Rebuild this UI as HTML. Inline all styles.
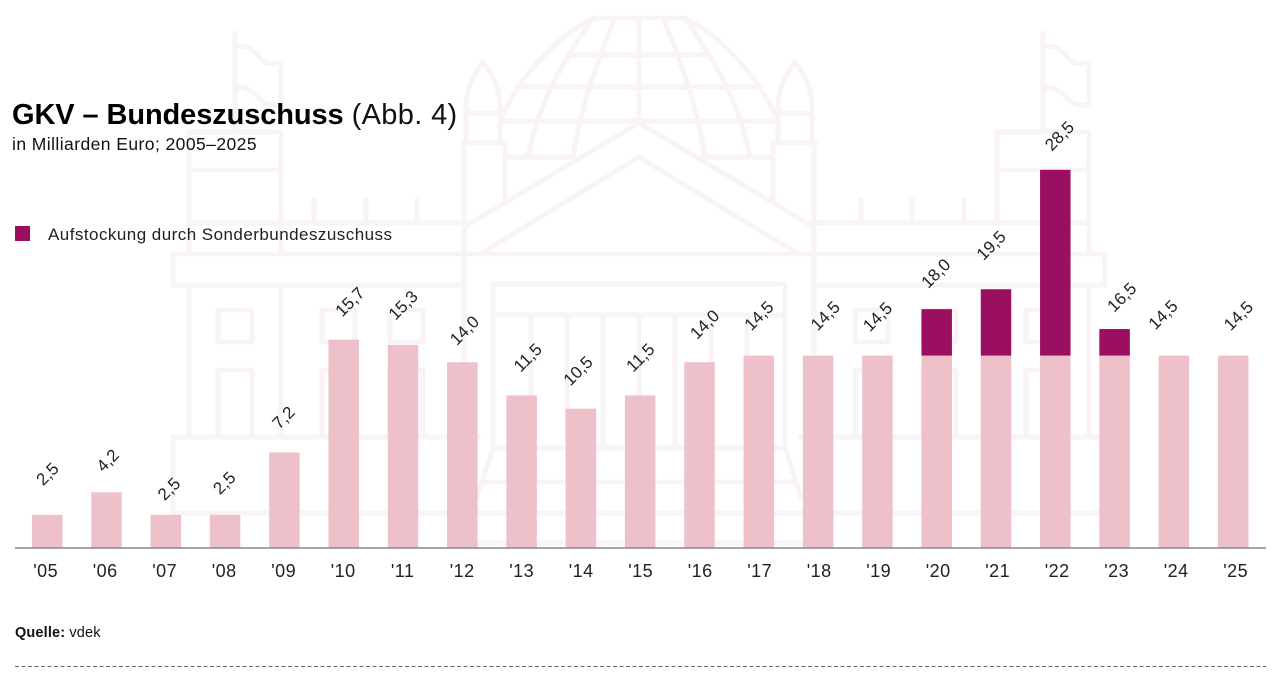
<!DOCTYPE html>
<html lang="de">
<head>
<meta charset="utf-8">
<title>GKV – Bundeszuschuss</title>
<style>
html,body{margin:0;padding:0;background:#fff;width:1280px;height:689px;overflow:hidden}
svg{display:block;font-family:"Liberation Sans",sans-serif}
</style>
</head>
<body>
<svg id="chart" xmlns="http://www.w3.org/2000/svg" width="1280" height="689" viewBox="0 0 1280 689">
  <g fill="none" stroke="#f9f3f5" stroke-width="5" stroke-linecap="round" stroke-linejoin="round">
    <g id="half">
      <path d="M639 18H593M639 55H570M639 87H517M639 121H500M575 157H505"/>
      <path d="M593 18C550 40 515 85 500 121"/>
      <path d="M615 18C600 55 582 100 573 157"/>
      <path d="M593 18C570 52 540 95 528 157"/>
      <path d="M639 18V121"/>
      <path d="M639 123L464 227M639 157L480 254"/>
      <path d="M483 62C472 76 466 90 466 106V142M483 62C494 76 500 90 500 106V142M466 113H500M463 143H505V202"/>
      <path d="M464 143V437"/>
      <path d="M235 87V132"/>
      <path d="M189 132H281M189 170H281M189 132V253M281 132V223M189 223H464M314 200V223M366 200V223M417 200V223"/>
      <path d="M639 254H173V285H464"/>
      <path d="M189 285V437M281 285V437"/>
      <path d="M218 310H252V342H218ZM322 310H355V342H322ZM390 310H423V342H390Z"/>
      <path d="M218 437V370H252V437M322 437V370H355V437M390 437V370H423V437"/>
      <path d="M173 513V437H478M173 513H639"/>
      <path d="M639 284H493V448M639 315H493M531 315V448M567 315V448M603 315V448M639 315V448"/>
      <path d="M639 448H493L477 497M639 482H483M639 543H478"/>
    </g>
    <use href="#half" transform="translate(1278,0) scale(-1,1)"/>
    <path id="flag" d="M235 33V87M235 46C248 46 254 50 261 59C267 66 273 63 281 63V105M235 87C248 87 254 92 261 100C267 106 273 105 281 105"/>
    <use href="#flag" transform="translate(808,0)"/>
    <path d="M281 223V253"/>
  </g>

  <text x="12" y="124" font-size="29" fill="#000"><tspan font-weight="700" letter-spacing="-0.1">GKV – Bundeszuschuss</tspan><tspan dx="8" fill="#111" letter-spacing="0.35">(Abb. 4)</tspan></text>
  <text x="12" y="150" font-size="17.5" letter-spacing="0.43" fill="#111">in Milliarden Euro; 2005–2025</text>

  <rect x="15" y="226" width="15" height="15" fill="#9a0f5f"/>
  <text x="48" y="240" font-size="17" letter-spacing="0.46" fill="#222">Aufstockung durch Sonderbundeszuschuss</text>

  <g id="bars"></g>
  <g id="value-labels"></g>
  <g id="x-ticks"></g>
  <line x1="15" x2="1266" y1="548" y2="548" stroke="#888" stroke-width="1.5"/>

  <text x="15" y="637" font-size="14.5" letter-spacing="0.15" fill="#111"><tspan font-weight="700">Quelle:</tspan> vdek</text>
  <line x1="15" x2="1266" y1="666.5" y2="666.5" stroke="#666" stroke-width="1" stroke-dasharray="4 2.5"/>
</svg>
<script>
const categories = ["'05","'06","'07","'08","'09","'10","'11","'12","'13","'14","'15","'16","'17","'18","'19","'20","'21","'22","'23","'24","'25"];
const baseValues = [2.5,4.2,2.5,2.5,7.2,15.7,15.3,14.0,11.5,10.5,11.5,14.0,14.5,14.5,14.5,14.5,14.5,14.5,14.5,14.5,14.5];
const extraValues = [0,0,0,0,0,0,0,0,0,0,0,0,0,0,0,3.5,5.0,14.0,2.0,0,0];

const NS = 'http://www.w3.org/2000/svg';
function xScale(i){ return 47.2 + i * 59.3; }
function tickScale(i){ return 45.7 + i * 59.5; }
function yScale(v){ return 548 - v * 13.27; }
function fmt(v){ return v.toFixed(1).replace('.', ','); }

function drawChart(){
  const labelShiftX = [0,1,3,-1,-1,6,0,2,6,-3,0,5,0,7,0,-1,-5,4,7,-11,5];
  const labelShiftY = [-41,-32,-26,-32,-35,-38,-40,-32,-38,-38,-38,-38,-40,-40,-39,-36,-44,-34,-32,-41,-40];
  const barWidth = 30.5;
  const bars = document.getElementById('bars');
  const valueLabels = document.getElementById('value-labels');
  const ticks = document.getElementById('x-ticks');

  categories.forEach(function(cat, i){
    const cx = xScale(i);
    const base = baseValues[i];
    const extra = extraValues[i];
    const total = base + extra;

    const baseBar = document.createElementNS(NS, 'rect');
    
    
    baseBar.setAttribute('x', cx - barWidth / 2);
    baseBar.setAttribute('y', yScale(base));
    baseBar.setAttribute('width', barWidth);
    baseBar.setAttribute('height', yScale(0) - yScale(base));
    baseBar.setAttribute('fill', '#eec1ca');
    bars.appendChild(baseBar);

    if (extra > 0) {
      const extraBar = document.createElementNS(NS, 'rect');
      
      
      extraBar.setAttribute('x', cx - barWidth / 2);
      extraBar.setAttribute('y', yScale(total));
      extraBar.setAttribute('width', barWidth);
      extraBar.setAttribute('height', yScale(base) - yScale(total));
      extraBar.setAttribute('fill', '#9a0f5f');
      bars.appendChild(extraBar);
    }

    const lx = cx + labelShiftX[i];
    const ly = yScale(total) + labelShiftY[i];
    const label = document.createElementNS(NS, 'text');
    
    
    label.setAttribute('x', lx);
    label.setAttribute('y', ly + 6);
    label.setAttribute('text-anchor', 'middle');
    label.setAttribute('font-size', '17');
    label.setAttribute('fill', '#222');
    label.setAttribute('transform', 'rotate(-45 ' + lx + ' ' + ly + ')');
    label.textContent = fmt(total);
    valueLabels.appendChild(label);

    const tick = document.createElementNS(NS, 'text');
    
    
    tick.setAttribute('x', tickScale(i));
    tick.setAttribute('y', 577);
    tick.setAttribute('text-anchor', 'middle');
    tick.setAttribute('font-size', '18');
    tick.setAttribute('letter-spacing', '0.5');
    tick.setAttribute('fill', '#222');
    tick.textContent = cat;
    ticks.appendChild(tick);
  });
}
drawChart();
</script>
</body>
</html>
